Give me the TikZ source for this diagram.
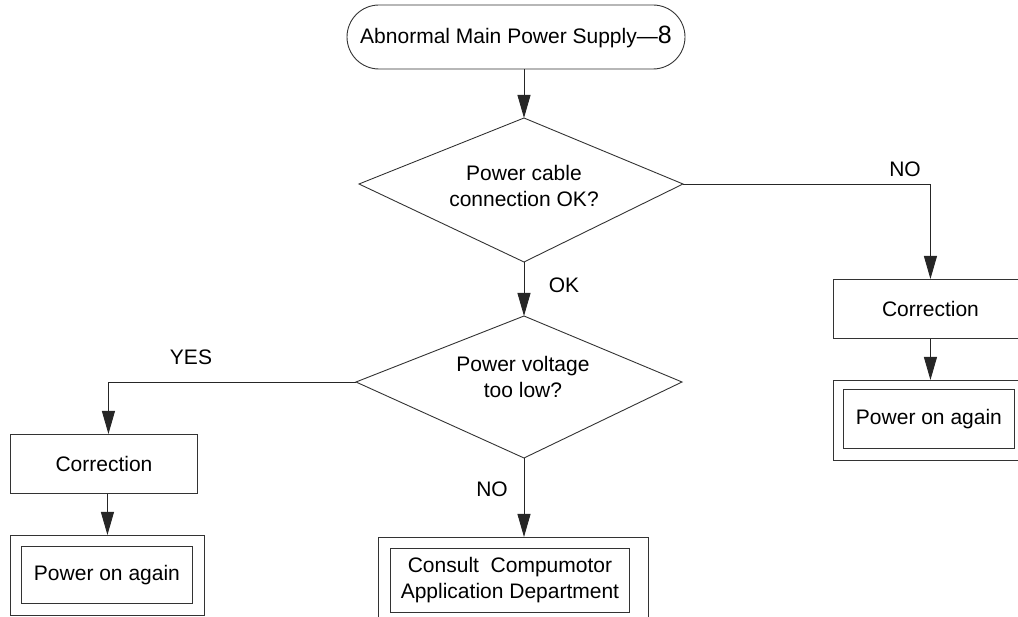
\documentclass[tikz,border=0pt]{standalone}
\usepackage{fontspec}
\setmainfont{Liberation Sans}
\usetikzlibrary{arrows.meta}
\begin{document}
\begin{tikzpicture}[x=1pt,y=-1pt,
  every node/.style={font=\fontsize{21}{26}\selectfont, inner sep=0pt},
  outline/.style={draw=black!80, line width=0.9pt},
  stepbox/.style={outline, rectangle, anchor=north west, align=center},
  terminal/.style={outline, rectangle, rounded corners=32pt, minimum width=338pt, minimum height=64pt},
  flow/.style={draw=black!85, line width=0.9pt, -{Triangle[length=23pt,width=13pt]}},
  lbl/.style={anchor=center}]
\useasboundingbox (0,0) rectangle (1018,617);
\clip (0,0) rectangle (1018,617);

% start terminal
\node[terminal] (term) at (516,37) {Abnormal Main Power Supply—{\fontsize{25}{26}\selectfont 8}};

% decision 1
\coordinate (d1t) at (524,118);
\coordinate (d1r) at (683,184);
\coordinate (d1b) at (524,262);
\coordinate (d1l) at (359,184);
\draw[outline] (d1t) -- (d1r) -- (d1b) -- (d1l) -- cycle;
\node[align=center] (d1txt) at (524,186) {Power cable\\connection OK?};

% decision 2
\coordinate (d2t) at (524,316);
\coordinate (d2r) at (682,382);
\coordinate (d2b) at (524,458);
\coordinate (d2l) at (356,382);
\draw[outline] (d2t) -- (d2r) -- (d2b) -- (d2l) -- cycle;
\node[align=center] (d2txt) at (523,377) {Power voltage\\too low?};

% right branch
\node[stepbox, minimum width=194pt, minimum height=59pt] (corrR) at (833,279) {Correction};
\node[stepbox, minimum width=194pt, minimum height=80pt] (outR) at (833,380) {};
\node[stepbox, minimum width=171pt, minimum height=59pt] (inR) at (843,389) {Power on again};

% left branch
\node[stepbox, minimum width=187pt, minimum height=59pt] (corrL) at (10,434) {Correction};
\node[stepbox, minimum width=194pt, minimum height=80pt] (outL) at (10,535) {};
\node[stepbox, minimum width=171pt, minimum height=57pt] (inL) at (21,546) {Power on again};

% bottom centre
\node[stepbox, minimum width=270pt, minimum height=90pt] (outC) at (378,537) {};
\node[stepbox, minimum width=239pt, minimum height=64pt] (inC) at (390,548) {Consult\ \ Compumotor\\Application Department};

% connectors
\draw[flow] (d1t |- term.south) -- (d1t);
\draw[flow] (d1r) -| (corrR.north);
\draw[flow] (d1b) -- (d2t);
\draw[flow] (d2l) -| ([xshift=4.5pt]corrL.north);
\draw[flow] (d2b) -- (outC.north -| d2b);
\draw[flow] ([xshift=3.5pt]corrL.south) -- ([xshift=3.5pt]corrL.south |- outL.north);
\draw[flow] (corrR.south) -- (corrR.south |- outR.north);

% branch labels
\node[lbl] (lno1) at (905,169) {NO};
\node[lbl] (lok) at (564,285) {OK};
\node[lbl] (lyes) at (191,357) {YES};
\node[lbl] (lno2) at (492,489) {NO};
\end{tikzpicture}
\end{document}
